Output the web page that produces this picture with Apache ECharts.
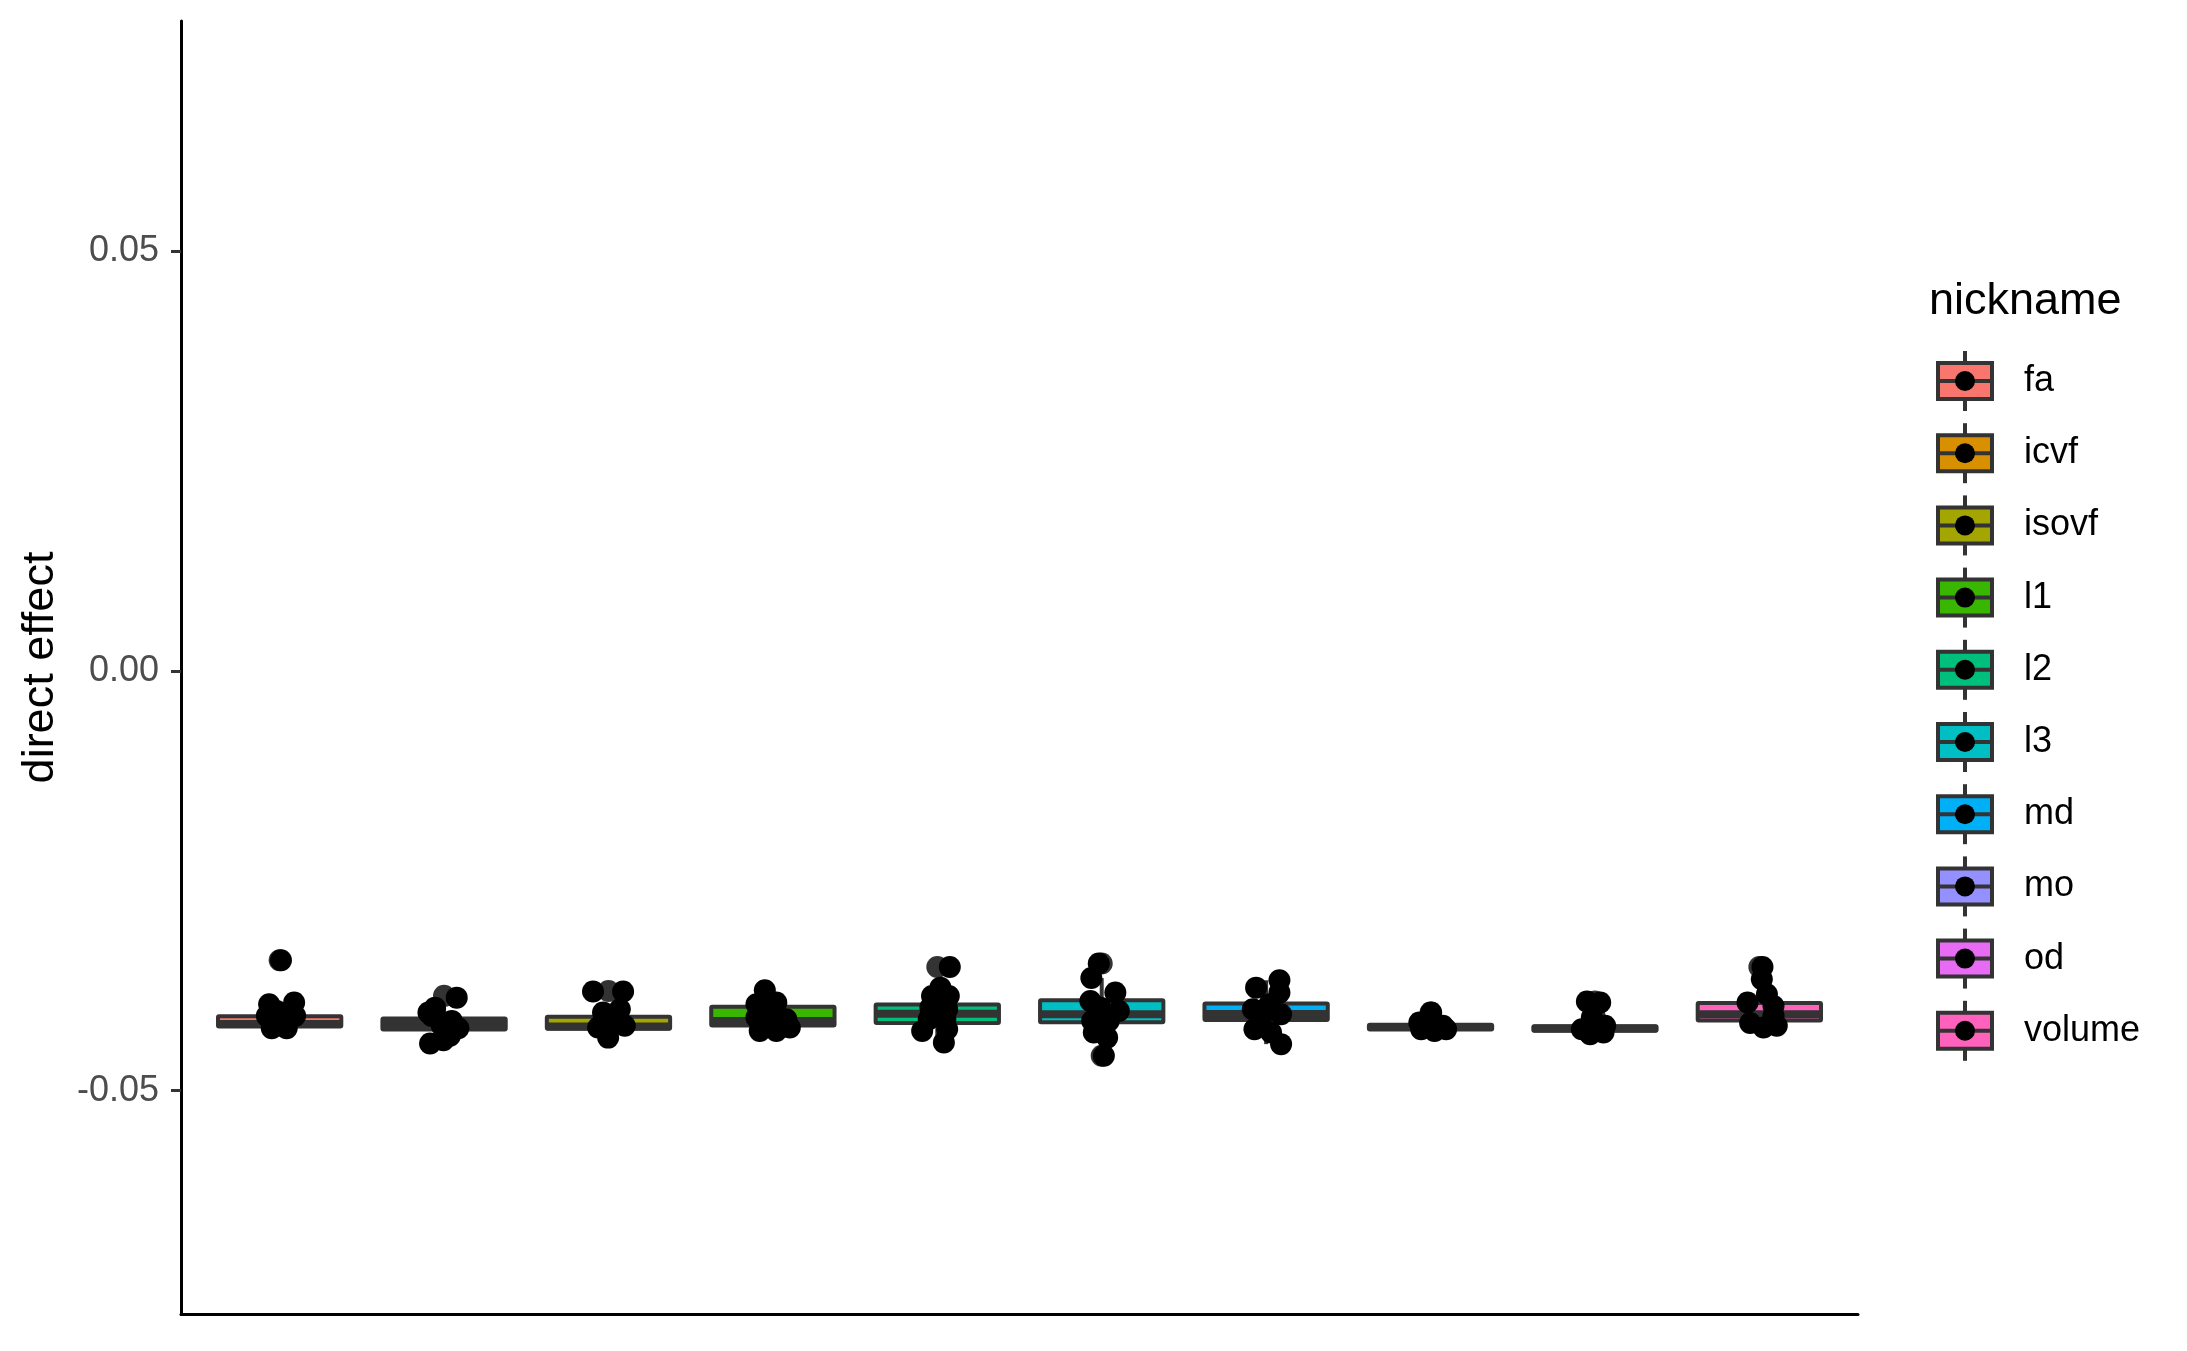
<!DOCTYPE html>
<html>
<head>
<meta charset="utf-8">
<script src="https://cdn.jsdelivr.net/npm/echarts@6/dist/echarts.min.js"></script>
<style>
html,body{margin:0;padding:0;background:#fff;}
#chart{width:2187px;height:1351px;}
</style>
</head>
<body>
<div id="chart"></div>
<script>
// ---- data ----
const categories = ['fa','icvf','isovf','l1','l2','l3','md','mo','od','volume'];
const fillColors = ['#F8766D','#D89000','#A3A500','#39B600','#00BF7D','#00BFC4','#00B0F6','#9590FF','#E76BF3','#FF62BC'];
const yTickValues = [-0.05, 0, 0.05];
const yAxisTitle = 'direct effect';
const legendTitle = 'nickname';

// box statistics: [lower whisker, Q1, median, Q3, upper whisker]
const boxFa     = [-0.04256, -0.04237, -0.04205, -0.04113, -0.03951];
const boxIcvf   = [-0.04439, -0.04272, -0.04205, -0.04141, -0.04011];
const boxIsovf  = [-0.04368, -0.04264, -0.04237, -0.04121, -0.04030];
const boxL1     = [-0.04288, -0.04225, -0.04169, -0.04002, -0.03804];
const boxL2     = [-0.04427, -0.04193, -0.04083, -0.03975, -0.03773];
const boxL3     = [-0.04368, -0.04184, -0.04089, -0.03923, -0.03659];
const boxMd     = [-0.04446, -0.04157, -0.04086, -0.03963, -0.03685];
const boxMo     = [-0.04288, -0.04272, -0.04242, -0.04216, -0.04189];
const boxOd     = [-0.04327, -0.04285, -0.04259, -0.04232, -0.04208];
const boxVolume = [-0.04248, -0.04165, -0.04089, -0.03955, -0.03673];

// boxplot outliers
const outFa = [-0.03447];
const outIcvf = [-0.03871];
const outIsovf = [-0.03812];
const outL1 = [];
const outL2 = [-0.03527];
const outL3 = [-0.03485, -0.04585];
const outMd = [];
const outMo = [-0.04070];
const outOd = [-0.03939, -0.03951, -0.04130];
const outVolume = [-0.03527];

// jittered points: [horizontal jitter (category units), value]
const ptsFa = [[-0.064,-0.03970],[0.088,-0.03951],[-0.078,-0.04109],[0.094,-0.04109],[-0.048,-0.04256],[0.043,-0.04256],[0.002,-0.04169],[-0.018,-0.04050],[0.013,-0.04228],[0.008,-0.03447]];
const ptsIcvf = [[0.077,-0.03892],[-0.095,-0.04070],[-0.075,-0.04109],[0.047,-0.04169],[0.087,-0.04256],[-0.014,-0.04228],[-0.085,-0.04439],[-0.004,-0.04399],[0.036,-0.04347],[-0.055,-0.04011]];
const ptsIsovf = [[-0.094,-0.03820],[0.089,-0.03820],[0.069,-0.04030],[-0.033,-0.04070],[-0.063,-0.04248],[0.099,-0.04228],[-0.002,-0.04368],[0.028,-0.04169],[-0.023,-0.04189]];
const ptsL1 = [[-0.049,-0.03804],[-0.100,-0.03970],[0.021,-0.03951],[-0.100,-0.04130],[0.082,-0.04149],[-0.080,-0.04288],[0.021,-0.04288],[0.103,-0.04248],[-0.019,-0.04089],[-0.040,-0.04208]];
const ptsL2 = [[0.076,-0.03527],[0.019,-0.03773],[-0.032,-0.03872],[0.070,-0.03872],[-0.042,-0.04011],[0.060,-0.04030],[-0.052,-0.04149],[0.049,-0.04149],[-0.092,-0.04288],[0.060,-0.04268],[0.040,-0.04427]];
const ptsL3 = [[-0.018,-0.03485],[-0.063,-0.03659],[0.083,-0.03832],[-0.069,-0.03931],[0.104,-0.04050],[-0.008,-0.04011],[-0.058,-0.04169],[0.043,-0.04169],[-0.048,-0.04308],[0.033,-0.04368],[0.013,-0.04585]];
const ptsMd = [[-0.061,-0.03773],[0.081,-0.03685],[0.081,-0.03832],[-0.081,-0.04030],[0.020,-0.03970],[0.091,-0.04089],[-0.030,-0.04130],[-0.071,-0.04268],[0.030,-0.04308],[0.091,-0.04446]];
const ptsMo = [[0.004,-0.04070],[-0.068,-0.04189],[0.075,-0.04228],[-0.057,-0.04268],[0.024,-0.04288],[0.095,-0.04268],[-0.016,-0.04189]];
const ptsOd = [[-0.049,-0.03939],[0.032,-0.03951],[-0.019,-0.04130],[-0.080,-0.04268],[0.062,-0.04228],[-0.029,-0.04327],[0.052,-0.04308],[-0.009,-0.04208]];
const ptsVolume = [[0.019,-0.03527],[0.015,-0.03673],[-0.072,-0.03951],[0.046,-0.03852],[0.086,-0.03991],[0.086,-0.04109],[0.106,-0.04228],[0.025,-0.04248],[-0.056,-0.04193]];

const boxList = [boxFa, boxIcvf, boxIsovf, boxL1, boxL2, boxL3, boxMd, boxMo, boxOd, boxVolume];
const outList = [outFa, outIcvf, outIsovf, outL1, outL2, outL3, outMd, outMo, outOd, outVolume];
const ptsList = [ptsFa, ptsIcvf, ptsIsovf, ptsL1, ptsL2, ptsL3, ptsMd, ptsMo, ptsOd, ptsVolume];

// ---- build ----
const FONT = '"Liberation Sans", Arial, Helvetica, sans-serif';
const OUTLINE = '#333333';
const BOX_WIDTH = 0.75;
const PT_SIZE = 22;

const boxData = boxList.map((b, i) => [i + 1, b[0], b[1], b[2], b[3], b[4], i]);
const outlierData = [];
outList.forEach((arr, i) => arr.forEach(v => outlierData.push([i + 1, v])));
const pointData = [];
ptsList.forEach((arr, i) => arr.forEach(p => pointData.push([i + 1 + p[0], p[1]])));

function renderBox(params, api) {
  const x = api.value(0);
  const low = api.coord([x, api.value(1)]);
  const q1 = api.coord([x, api.value(2)]);
  const med = api.coord([x, api.value(3)]);
  const q3 = api.coord([x, api.value(4)]);
  const high = api.coord([x, api.value(5)]);
  const idx = api.value(6);
  const half = api.size([BOX_WIDTH, 0])[0] / 2;
  const cx = q1[0];
  return {
    type: 'group',
    children: [
      { type: 'line', shape: { x1: cx, y1: high[1], x2: cx, y2: q3[1] }, style: { stroke: OUTLINE, lineWidth: 4 } },
      { type: 'line', shape: { x1: cx, y1: q1[1], x2: cx, y2: low[1] }, style: { stroke: OUTLINE, lineWidth: 4 } },
      { type: 'rect', shape: { x: cx - half, y: q3[1], width: half * 2, height: q1[1] - q3[1], r: 1 },
        style: { fill: fillColors[idx], stroke: OUTLINE, lineWidth: 4, lineJoin: 'round' } },
      { type: 'line', shape: { x1: cx - half, y1: med[1], x2: cx + half, y2: med[1] }, style: { stroke: OUTLINE, lineWidth: 8 } }
    ]
  };
}

// legend (ggplot-style keys) built from categories / colours
const legendX = 1965, legendTop = 381, legendRow = 72.2;
const legendGraphics = [{
  type: 'text', left: 1929, top: 300 - 21,
  style: { text: legendTitle, font: '45px ' + FONT, fill: '#000' }
}];
categories.forEach((c, i) => {
  const y = legendTop + i * legendRow;
  legendGraphics.push(
    { type: 'line', shape: { x1: legendX, y1: y - 30, x2: legendX, y2: y + 30 }, style: { stroke: OUTLINE, lineWidth: 4 } },
    { type: 'rect', shape: { x: legendX - 27, y: y - 18, width: 54, height: 36 }, style: { fill: fillColors[i], stroke: OUTLINE, lineWidth: 4 } },
    { type: 'line', shape: { x1: legendX - 27, y1: y, x2: legendX + 27, y2: y }, style: { stroke: OUTLINE, lineWidth: 4 } },
    { type: 'circle', shape: { cx: legendX, cy: y, r: 10 }, style: { fill: '#000' } },
    { type: 'text', x: 2024, y: y, style: { text: c, font: '36px ' + FONT, fill: '#000', textVerticalAlign: 'middle', verticalAlign: 'middle' } }
  );
});

const chart = echarts.init(document.getElementById('chart'), null, { renderer: 'canvas' });
chart.setOption({
  backgroundColor: '#ffffff',
  animation: false,
  grid: { left: 181, right: 2187 - 1858, top: 21, bottom: 1351 - 1314, containLabel: false },
  xAxis: {
    type: 'value', min: 0.4, max: 10.6,
    axisLine: { show: true, onZero: false, lineStyle: { color: '#000', width: 3 } },
    axisTick: { show: false }, axisLabel: { show: false }, splitLine: { show: false }
  },
  yAxis: {
    type: 'value', min: -0.0766, max: 0.0774,
    name: yAxisTitle, nameLocation: 'middle', nameGap: 118, nameRotate: 90,
    nameTextStyle: { fontFamily: FONT, fontSize: 45, color: '#000' },
    axisLine: { show: true, onZero: false, lineStyle: { color: '#000', width: 3 } },
    axisTick: { show: true, length: 10, customValues: yTickValues, lineStyle: { color: '#333', width: 3 } },
    axisLabel: { show: true, customValues: yTickValues, margin: 22, fontFamily: FONT, fontSize: 36, color: '#4D4D4D',
      formatter: v => v.toFixed(2) },
    splitLine: { show: false }
  },
  series: [
    { type: 'custom', name: 'box', renderItem: renderBox, data: boxData, encode: { x: 0, y: [1, 2, 3, 4, 5] }, z: 2, silent: true },
    { type: 'scatter', name: 'outliers', data: outlierData, symbol: 'circle', symbolSize: PT_SIZE, itemStyle: { color: '#333333', opacity: 1 }, z: 3, silent: true },
    { type: 'scatter', name: 'points', data: pointData, symbol: 'circle', symbolSize: PT_SIZE, itemStyle: { color: '#000000', opacity: 1 }, z: 4, silent: true }
  ],
  graphic: legendGraphics
});
</script>
</body>
</html>
